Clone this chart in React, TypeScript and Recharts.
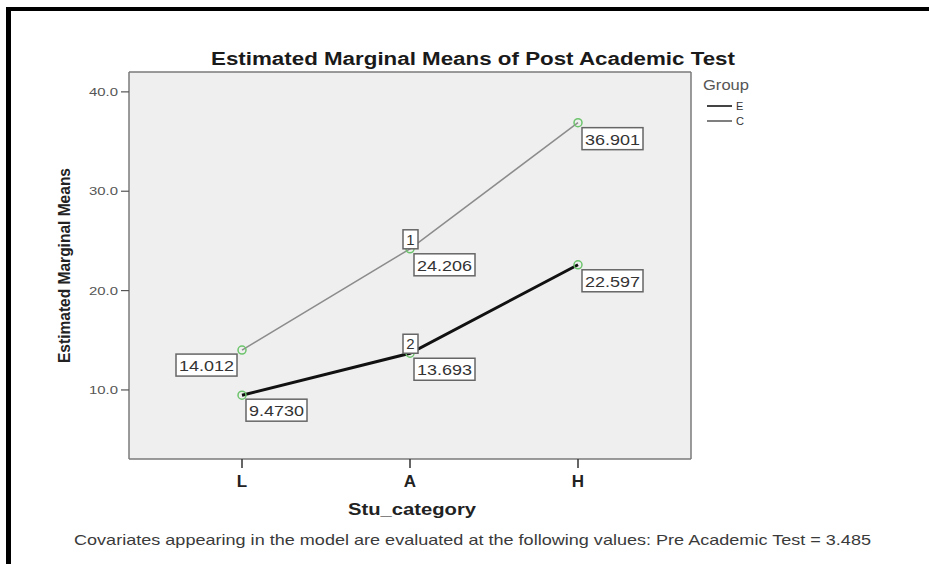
import { LineChart, Line, XAxis, YAxis, CartesianGrid, LabelList } from "recharts";

const categories = ["L", "A", "H"];
const groupE = [14.012, 24.206, 36.901];
const groupC = [9.473, 13.693, 22.597];
const yTicks = [10, 20, 30, 40];
const yDomain = [3.05, 42];

const data = categories.map((cat, i) => ({ cat, E: groupE[i], C: groupC[i] }));

const FONT = '"Liberation Sans", Arial, sans-serif';

// SPSS-style boxed value labels; the middle point also gets a small series number box
const makeValueLabel = (seriesNo: number, firstOnLeft: boolean) => (props: any) => {
  const { x, y, value, index } = props;
  const text = Number(value).toPrecision(5);
  const w = 61;
  const h = 22;
  const bx = index === 0 && firstOnLeft ? x - 66 : x + 4;
  const by = index === 0 ? y + 4 : y + 5;
  return (
    <g>
      <rect x={bx} y={by} width={w} height={h} fill="#fff" stroke="#666" strokeWidth={1.5} />
      <text
        x={bx + 3}
        y={by + 17}
        textLength={55}
        lengthAdjust="spacingAndGlyphs"
        fontSize={15}
        fill="#333"
        fontFamily={FONT}
      >
        {text}
      </text>
      {index === 1 && (
        <g>
          <rect x={x - 7} y={y - 19} width={15} height={19} fill="#fff" stroke="#666" strokeWidth={1.5} />
          <text x={x + 0.5} y={y - 4} textAnchor="middle" fontSize={15} fill="#333" fontFamily={FONT}>
            {seriesNo}
          </text>
        </g>
      )}
    </g>
  );
};

const YTick = ({ x, y, payload }: any) => (
  <text
    x={x - 29}
    y={y + 4}
    fontSize={11}
    fill="#555"
    fontFamily={FONT}
    textLength={29}
    lengthAdjust="spacingAndGlyphs"
  >
    {Number(payload.value).toFixed(1)}
  </text>
);

const XTick = ({ x, y, payload }: any) => (
  <text x={x} y={y + 17} textAnchor="middle" fontSize={17} fontWeight="bold" fill="#222" fontFamily={FONT}>
    {payload.value}
  </text>
);

const dotStyle = { r: 4, stroke: "#6cc46c", strokeWidth: 1.5, fill: "none" };

// grey plot panel with a frame: grid lines only on the plot edges
const frameRows = ({ offset }: any) => [offset.top, offset.top + offset.height];
const frameCols = ({ offset }: any) => [offset.left, offset.left + offset.width];

export default function App() {
  return (
    <div style={{ position: "absolute", left: 0, top: 0, width: 929, height: 564, background: "#fff" }}>
      <LineChart width={929} height={564} data={data} margin={{ top: 72, right: 238, bottom: 75, left: 69 }}>
        <CartesianGrid
          fill="#efefef"
          fillOpacity={1}
          stroke="#7a7a7a"
          strokeWidth={1.5}
          horizontalCoordinatesGenerator={frameRows}
          verticalCoordinatesGenerator={frameCols}
        />
        <XAxis
          dataKey="cat"
          padding={{ left: 113, right: 113 }}
          axisLine={false}
          tickLine={{ stroke: "#333", strokeWidth: 1.5 }}
          tickSize={9}
          tickMargin={2}
          tick={<XTick />}
          height={30}
        />
        <YAxis
          type="number"
          domain={yDomain}
          allowDataOverflow
          ticks={yTicks}
          axisLine={false}
          tickLine={{ stroke: "#555", strokeWidth: 1.2 }}
          tickSize={8}
          tickMargin={3}
          tick={<YTick />}
          width={60}
        />
        <Line
          dataKey="E"
          stroke="#8c8c8c"
          strokeWidth={1.5}
          dot={dotStyle}
          isAnimationActive={false}
        >
          <LabelList dataKey="E" content={makeValueLabel(1, true)} />
        </Line>
        <Line
          dataKey="C"
          stroke="#111"
          strokeWidth={3}
          dot={dotStyle}
          isAnimationActive={false}
        >
          <LabelList dataKey="C" content={makeValueLabel(2, false)} />
        </Line>
      </LineChart>
      <svg
        width={929}
        height={564}
        style={{ position: "absolute", left: 0, top: 0, pointerEvents: "none" }}
        fontFamily={FONT}
      >
        <rect x={6} y={7} width={923} height={4} fill="#000" />
        <rect x={6} y={7} width={5} height={557} fill="#000" />
        <text x={211} y={65} fontSize={18} fontWeight="bold" fill="#1a1a1a" textLength={524} lengthAdjust="spacingAndGlyphs">
          Estimated Marginal Means of Post Academic Test
        </text>
        <text
          transform="translate(70,265.5) scale(1.2,1) rotate(-90)"
          textAnchor="middle"
          fontSize={14}
          fontWeight="bold"
          fill="#222"
          textLength={195}
          lengthAdjust="spacingAndGlyphs"
        >
          Estimated Marginal Means
        </text>
        <text x={348} y={515} fontSize={16} fontWeight="bold" fill="#222" textLength={128} lengthAdjust="spacingAndGlyphs">
          Stu_category
        </text>
        <text x={74} y={545} fontSize={15} fill="#3a3a3a" textLength={797} lengthAdjust="spacingAndGlyphs">
          Covariates appearing in the model are evaluated at the following values: Pre Academic Test = 3.485
        </text>
        <text x={703} y={90} fontSize={14} fill="#555" textLength={46} lengthAdjust="spacingAndGlyphs">
          Group
        </text>
        <line x1={707} x2={732} y1={106} y2={106} stroke="#444" strokeWidth={2} />
        <text x={736} y={110} fontSize={11} fill="#333">E</text>
        <line x1={707} x2={732} y1={121} y2={121} stroke="#555" strokeWidth={1.5} />
        <text x={736} y={125} fontSize={11} fill="#333">C</text>
      </svg>
    </div>
  );
}
